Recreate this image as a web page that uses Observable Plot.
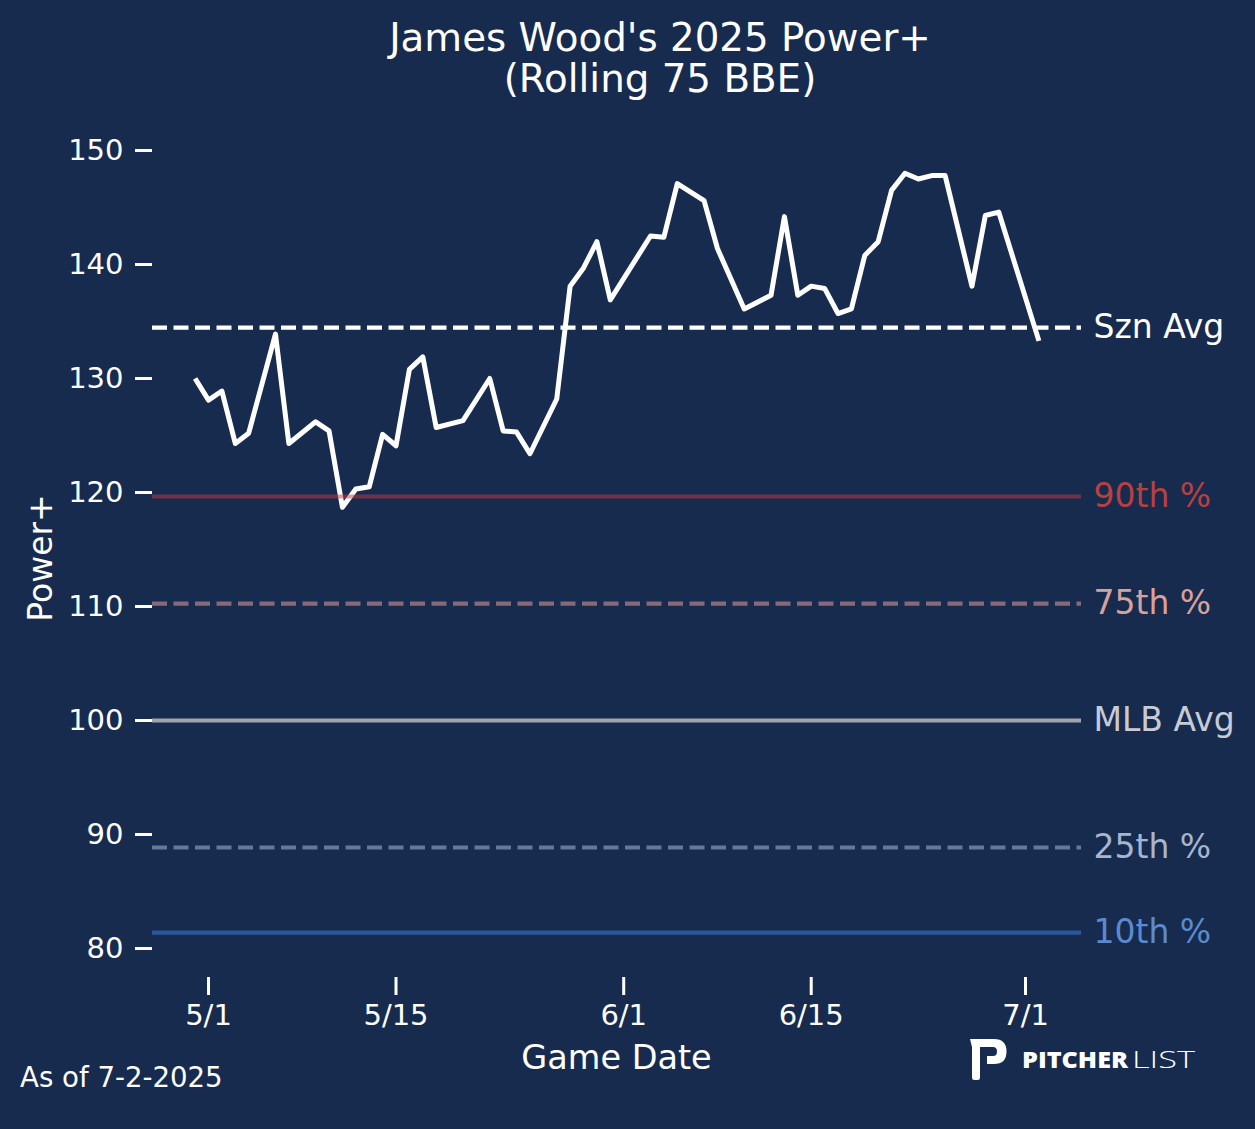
<!DOCTYPE html>
<html>
<head>
<meta charset="utf-8">
<script src="https://cdn.jsdelivr.net/npm/d3@7"></script>
<script src="https://cdn.jsdelivr.net/npm/@observablehq/plot@0.6"></script>
<style>
  html, body { margin: 0; padding: 0; background: #172b4f; }
  #wrap { position: relative; width: 1255px; height: 1129px; background: #172b4f; overflow: hidden; }
  #chart { position: absolute; left: 0; top: 0; }
  #overlay { position: absolute; left: 0; top: 0; pointer-events: none; }
</style>
</head>
<body>
<div id="wrap">
  <div id="chart"></div>
  <svg id="overlay" width="1255" height="1129" font-family="DejaVu Sans, sans-serif">
    <text x="660" y="51" text-anchor="middle" font-size="38.8" fill="#ffffff">James Wood's 2025 Power+</text>
    <text x="660" y="92" text-anchor="middle" font-size="38.8" fill="#ffffff">(Rolling 75 BBE)</text>
    <text x="616.5" y="1069" text-anchor="middle" font-size="33.5" fill="#ffffff">Game Date</text>
    <text transform="translate(51.5,558) rotate(-90)" text-anchor="middle" font-size="33" fill="#ffffff">Power+</text>
    <text x="20" y="1087" font-size="27.6" fill="#ffffff">As of 7-2-2025</text>
    <g fill="#ffffff">
      <path d="M970,1039 L994,1039 Q1006.5,1039 1006.5,1051.5 Q1006.5,1064 994,1064 L987,1064 L987,1056 L993,1056 Q997,1056 997,1051.5 Q997,1047 993,1047 L980,1047 L980,1077.5 Q980,1080 977.5,1080 L974.5,1080 Q972,1080 972,1077.5 L972,1047 Z"/>
      <text x="1022" y="1068" font-family="Open Sans, sans-serif" font-weight="800" font-size="23.5" textLength="106" lengthAdjust="spacingAndGlyphs">PITCHER</text>
      <text x="1132" y="1068" font-family="Open Sans, sans-serif" font-weight="300" font-size="23.5" textLength="63" lengthAdjust="spacingAndGlyphs">LIST</text>
    </g>
  </svg>
</div>
<script>
// ---- data ----
const gameDates = [
  "2025-04-30","2025-05-01","2025-05-02","2025-05-03","2025-05-04","2025-05-06","2025-05-07",
  "2025-05-09","2025-05-10","2025-05-11","2025-05-12","2025-05-13","2025-05-14","2025-05-15",
  "2025-05-16","2025-05-17","2025-05-18","2025-05-20","2025-05-22","2025-05-23","2025-05-24",
  "2025-05-25","2025-05-27","2025-05-28","2025-05-29","2025-05-30","2025-05-31","2025-06-03",
  "2025-06-04","2025-06-05","2025-06-07","2025-06-08","2025-06-10","2025-06-12","2025-06-13",
  "2025-06-14","2025-06-15","2025-06-16","2025-06-17","2025-06-18","2025-06-19","2025-06-20",
  "2025-06-21","2025-06-22","2025-06-23","2025-06-24","2025-06-25","2025-06-27","2025-06-28",
  "2025-06-29","2025-07-02"
];
const powerPlus = [
  130.0,128.1,128.9,124.3,125.2,133.9,124.3,
  126.2,125.4,118.7,120.3,120.5,125.1,124.1,
  130.8,131.9,125.7,126.3,130.0,125.4,125.3,
  123.4,128.2,138.1,139.7,142.0,136.9,142.5,
  142.4,147.1,145.6,141.4,136.1,137.3,144.2,
  137.3,138.1,137.9,135.7,136.1,140.8,142.0,
  146.5,148.0,147.5,147.8,147.8,138.1,144.3,
  144.6,133.3
];
const refLabels = ["Szn Avg", "90th %", "75th %", "MLB Avg", "25th %", "10th %"];
const refValues = [134.47, 119.65, 110.26, 100, 88.86, 81.4];
const yTicks = [80, 90, 100, 110, 120, 130, 140, 150];
const xTickDates = ["2025-05-01", "2025-05-15", "2025-06-01", "2025-06-15", "2025-07-01"];

// ---- styles ----
const refStyle = {
  "Szn Avg": { stroke: "#ffffff", opacity: 1, dash: "15,6.5", text: "#ffffff" },
  "90th %":  { stroke: "#c23b45", opacity: 0.5, dash: null, text: "#b8403f" },
  "75th %":  { stroke: "#88697a", opacity: 1, dash: "15,6.5", text: "#d9a19c" },
  "MLB Avg": { stroke: "#a0a5b0", opacity: 1, dash: null, text: "#c6cbd6" },
  "25th %":  { stroke: "#63789b", opacity: 1, dash: "15,6.5", text: "#a7b6ce" },
  "10th %":  { stroke: "#2a5898", opacity: 1, dash: null, text: "#5b8bcf" }
};

const parse = d3.utcParse("%Y-%m-%d");
const series = gameDates.map((d, i) => ({ date: parse(d), value: powerPlus[i] }));
const refs = refLabels.map((label, i) => ({ label, value: refValues[i] }));
const xTicks = xTickDates.map(parse);
const fmt = d => `${d.getUTCMonth() + 1}/${d.getUTCDate()}`;

const DAY = 864e5;
const may1 = parse("2025-05-01").getTime();
const xDomain = [new Date(may1 - 4.181 * DAY), new Date(may1 + 65.18 * DAY)];

const marks = [
  Plot.axisY({ ticks: yTicks, tickSize: 17, tickPadding: 12, fontSize: 29, strokeWidth: 3, label: null }),
  Plot.axisX({ ticks: xTicks, tickFormat: fmt, tickSize: 18, tickPadding: 9, fontSize: 29, strokeWidth: 3, label: null }),
  Plot.line(series, { x: "date", y: "value", stroke: "#ffffff", strokeWidth: 5, strokeLinejoin: "round", strokeLinecap: "butt" })
];
refs.forEach(r => {
  const s = refStyle[r.label];
  marks.push(Plot.ruleY([r], { y: "value", stroke: s.stroke, strokeOpacity: s.opacity, strokeWidth: 4.2, strokeDasharray: s.dash }));
  marks.push(Plot.text([r], { y: "value", text: "label", frameAnchor: "right", dx: 12, textAnchor: "start", fill: s.text, fontSize: 33 }));
});

const chart = Plot.plot({
  width: 1255,
  height: 1129,
  marginLeft: 152,
  marginRight: 174,
  marginTop: 121.5,
  marginBottom: 152,
  style: { background: "transparent", color: "#ffffff", fontFamily: "DejaVu Sans, sans-serif", overflow: "visible" },
  x: { type: "utc", domain: xDomain },
  y: { domain: [77.456, 152.5] },
  marks
});
document.getElementById("chart").appendChild(chart);
</script>
</body>
</html>
